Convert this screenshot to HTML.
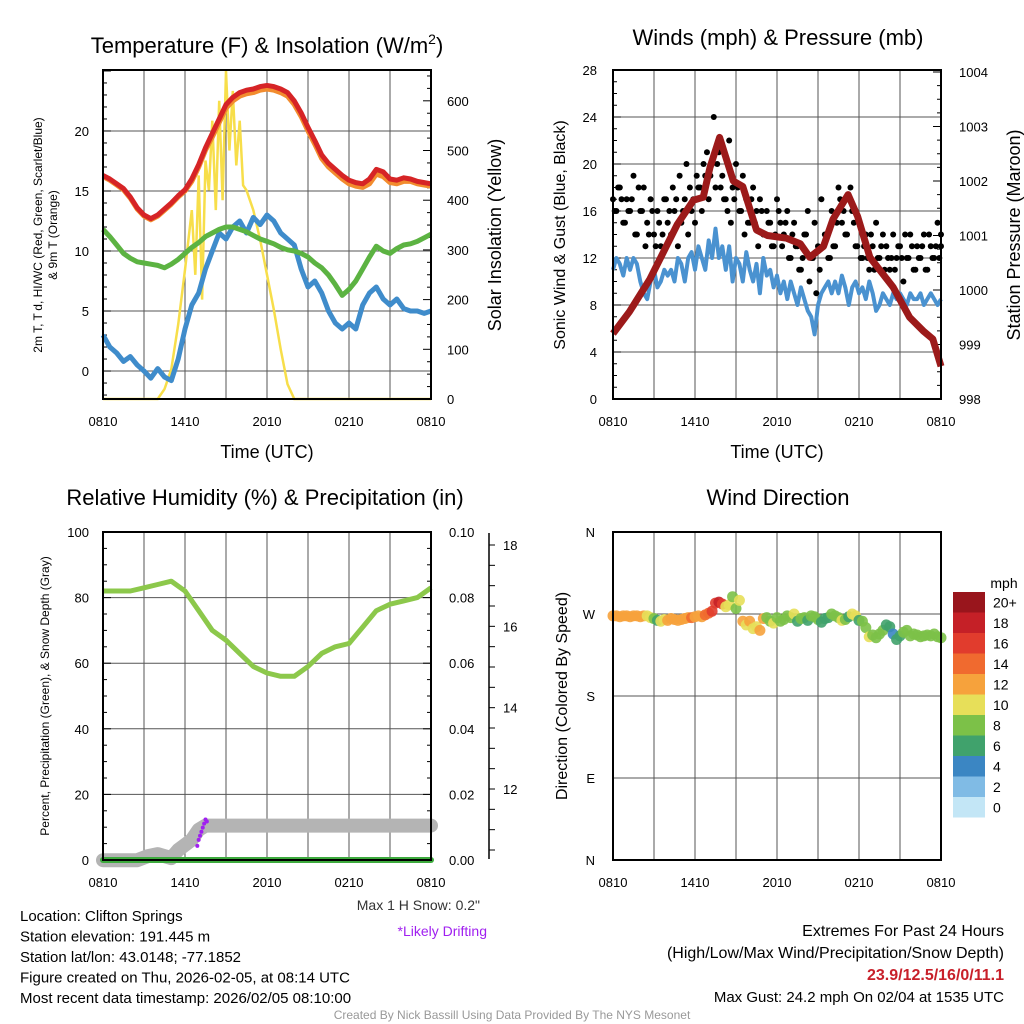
<!DOCTYPE html>
<html><head><meta charset="utf-8">
<style>
body{margin:0;background:#fff;}
svg{display:block;font-family:"Liberation Sans",sans-serif;}
</style></head>
<body>
<svg id="c" width="1024" height="1024" viewBox="0 0 1024 1024" xmlns="http://www.w3.org/2000/svg"></svg>
<script>
// ---------- DATA ----------
const timeLabels = ["0810","1410","2010","0210","0810"];
const halfHours = [];
for (let i = 0; i <= 48; i++) halfHours.push(i * 0.5);
const quarterHours = [];
for (let i = 0; i <= 96; i++) quarterHours.push(i * 0.25);
const tempRed = [16.3,16.0,15.6,15.2,14.5,13.6,13.0,12.7,13.0,13.5,14.0,14.6,15.1,16.0,17.2,18.6,19.8,21.0,22.2,22.8,23.2,23.4,23.5,23.7,23.8,23.7,23.5,23.2,22.5,21.5,20.3,19.2,18.0,17.3,16.8,16.3,15.9,15.7,15.6,16.0,16.8,16.6,16.0,15.9,16.1,16.0,15.8,15.7,15.6];
const temp9mOrange = [16.2,15.9,15.5,15.1,14.4,13.5,12.9,12.6,12.9,13.4,13.9,14.5,15.0,15.8,17.0,18.4,19.5,20.7,21.9,22.5,22.9,23.1,23.2,23.4,23.5,23.4,23.2,22.9,22.2,21.2,20.0,18.9,17.7,17.0,16.5,16.0,15.6,15.4,15.3,15.6,16.4,16.2,15.7,15.6,15.8,15.8,15.6,15.5,15.4];
const dewGreen = [11.8,11.2,10.5,9.8,9.4,9.1,9.0,8.9,8.8,8.6,8.9,9.3,9.8,10.3,10.7,11.2,11.5,11.8,12.0,12.0,11.8,11.6,11.3,11.0,10.8,10.6,10.3,10.1,10.0,9.8,9.5,9.0,8.6,8.0,7.2,6.3,6.8,7.5,8.5,9.5,10.4,10.0,9.8,10.2,10.5,10.6,10.8,11.1,11.4];
const chillBlue = [3.0,2.0,1.5,0.8,1.2,0.5,0.0,-0.6,0.2,-0.5,-0.8,1.0,3.5,5.5,6.5,8.5,10.0,11.5,11.0,12.0,12.5,11.5,12.8,12.2,13.0,12.5,11.5,11.0,10.5,8.5,7.0,7.5,6.5,5.0,4.0,3.5,4.0,3.5,5.5,6.5,7.0,6.0,5.5,6.0,5.2,5.0,5.0,4.8,5.0];
const solarHours = [0,3.5,4,4.5,5,5.5,6,6.25,6.5,6.75,7,7.25,7.5,7.75,8,8.25,8.5,8.75,9,9.25,9.5,9.75,10,10.25,10.5,11,11.5,12,12.5,13,13.5,14,24];
const solarWm2 = [0,0,0,20,60,150,260,320,380,250,450,200,480,420,560,380,600,400,660,500,620,470,560,430,420,380,320,250,180,100,30,0,0];
const pressHours = [0,1.2,2.7,4.7,5.9,6.6,7.1,7.8,8.8,9.5,10.5,11.3,12.7,13.7,14.4,15.4,16.1,17.2,17.9,18.8,20.5,21.7,22.7,23.4,24];
const pressMb = [999.2,999.6,1000.2,1001.2,1001.65,1001.7,1002.25,1002.8,1002.0,1001.9,1001.1,1001.0,1000.95,1000.85,1000.6,1000.8,1001.3,1001.75,1001.35,1000.6,1000.05,999.5,999.25,999.1,998.6];
const windBlue = [11,12,11.5,10.5,12,11,12,11.5,10,
  9,8.5,10,11,9.5,10,11,10.5,
  11,10,12,11.5,10,12,12.5,11,
  13,12,11,13.5,12,14.5,12,13,
  11,13,10,12,11.5,10,12.5,11,
  10,11.5,9,12,10.5,11,9.5,10.5,
  9,10,8.5,10,9,8,9.5,8.5,
  7.5,7,5.5,8,9,9.5,10,9,
  10,9,10.5,9.5,8,9.5,10,9,
  9.5,8.5,10,9,7.5,8,9,8.5,
  8,9,8.5,9,8.5,8,9,8.5,
  8.5,9,8,8.5,9,8.5,8,8.5];
const gustMph = [17,16,18,15,17,16,19,14,16,18,15,17,14,16,13,17,15,14,16,13,15,17,14,16,15,18,16,19,17,20,18,21,19,17,22,18,20,16,19,17,15,18,16,17,14,16,15,13,17,15,14,16,12,15,13,11,14,16,12,15,13,17,14,12,16,13,18,15,14,17,16,13,15,12,14,11,13,15,12,14,13,11,14,12,13,10,12,14,11,13,12,14,11,13,12,15,14];
const gustMphB = [16,18,17,15,16,17,14,18,16,
  13,14,16,13,15,14,17,16,
  18,17,19,16,20,18,17,19,
  18,20,21,19,24,20,18,17,
  16,15,17,18,16,14,15,17,
  15,13,16,14,15,13,14,16,
  13,15,12,14,13,11,12,14,
  10,12,9,11,13,14,12,13,
  15,17,16,14,18,15,13,12,
  13,12,14,11,12,13,11,12,
  12,11,13,12,14,12,13,11,
  12,13,11,14,12,13,12,13];
const rhHours = [0,2,3,4,5,6,7,8,9,10,11,12,13,14,15,16,17,18,19,20,21,22,23,24];
const rhPct = [82,82,83,84,85,82,76,70,67,63,59,57,56,56,59,63,65,66,71,76,78,79,80,83];
const snowHours = [0,2.5,3.3,4,5,5.5,6.5,7,7.5,24];
const snowIn = [10.25,10.25,10.35,10.4,10.3,10.5,10.75,11.0,11.1,11.1];
const driftHours = [6.9,7.0,7.1,7.2,7.3,7.4,7.5,7.6];
const driftIn = [10.6,10.75,10.85,10.95,11.05,11.15,11.25,11.2];
const dirDeg = [268,268,267,268,268,267,268,268,267,268,268,266,265,263,262,264,263,265,264,263,264,265,266,266,267,268,267,269,271,273,282,283,281,278,280,289,276,285,262,258,262,254,256,252,265,266,262,260,266,262,264,268,266,270,262,265,266,263,268,267,264,261,265,266,270,268,266,263,264,267,270,268,263,262,255,245,247,244,248,252,258,256,248,242,246,250,252,246,248,247,245,246,247,246,248,245,244];
const dirSpeed = [12,12,13,12,12,12,12,13,12,12,11,10,9,7,10,11,12,12,12,13,12,12,13,14,12,13,13,14,15,16,17,18,16,10,11,9,9,10,12,10,13,11,10,13,12,9,9,10,8,9,9,8,8,10,6,8,8,6,8,9,9,6,6,7,8,8,9,10,8,7,10,10,7,8,8,10,9,8,9,8,7,6,5,6,7,8,8,8,8,9,8,8,8,8,9,8,8];
const cbarLabels = ["20+","18","16","14","12","10","8","6","4","2","0"];
const cbarColors = ["#99151c","#c52027","#e13c2d","#f06a2f","#f6a23c","#e7df59","#7cc148","#40a26c","#3b86c3","#80bbe5","#c3e6f6"];

// ---------- helpers ----------
const NS = "http://www.w3.org/2000/svg";
const svg = document.getElementById("c");
function mk(tag, attrs, name, parent) {
  const el = document.createElementNS(NS, tag);
  for (const k in attrs) el.setAttribute(k, attrs[k]);
  
  
  (parent || svg).appendChild(el);
  return el;
}
function txt(x, y, s, size, name, opts) {
  opts = opts || {};
  const t = mk("text", Object.assign({x: x, y: y, "font-size": size, fill: opts.fill || "#000", "text-anchor": opts.anchor || "middle"}, opts.extra || {}), name);
  if (opts.bold) t.setAttribute("font-weight", "bold");
  t.textContent = s;
  return t;
}
function lin(d0, d1, p0, p1) { return v => p0 + (v - d0) * (p1 - p0) / (d1 - d0); }
function pathFrom(xs, ys, fx, fy) {
  let d = "";
  for (let i = 0; i < xs.length; i++) d += (i ? "L" : "M") + fx(xs[i]).toFixed(1) + "," + fy(ys[i]).toFixed(1);
  return d;
}

function panel(L, T, R, B, name) {
  const fx = lin(0, 24, L, R);
  for (let h = 3; h < 24; h += 3) mk("line", {x1: fx(h), x2: fx(h), y1: T, y2: B, stroke: "#555", "stroke-width": 1}, name + "-vgrid");
  timeLabels.forEach((s, i) => txt(fx(i * 6), B + 27, s, 13, name + "-x-tick-label"));
  return fx;
}
function frame(L, T, R, B, name) {
  mk("rect", {x: L, y: T, width: R - L, height: B - T, fill: "none", stroke: "#000", "stroke-width": 2}, name + "-frame");
}
function hgrid(L, R, y, name) { mk("line", {x1: L, x2: R, y1: y, y2: y, stroke: "#555", "stroke-width": 1}, name + "-hgrid"); }
function ticksLeft(L, y, major, name) { mk("line", {x1: L, x2: L + (major ? 8 : 4), y1: y, y2: y, stroke: "#000", "stroke-width": 1}, name + "-tick"); }
function ticksRight(R, y, major, name) { mk("line", {x1: R, x2: R - (major ? 8 : 4), y1: y, y2: y, stroke: "#000", "stroke-width": 1}, name + "-tick"); }

// ================= Panel 1 =================
{
  const L = 103, T = 70, R = 431, B = 399;
  const fx = panel(L, T, R, B, "temp-panel");
  const fy = lin(-2.33, 25.08, B, T);
  const fs = lin(0, 662, B, T);
  [0, 5, 10, 15, 20].forEach(v => { hgrid(L, R, fy(v), "temp-panel"); txt(L - 14, fy(v) + 5, String(v), 13, "temp-y-tick-label", {anchor: "end"}); });
  for (let v = -2; v <= 25; v++) ticksLeft(L, fy(v), v % 5 === 0, "temp-left");
  [0, 100, 200, 300, 400, 500, 600].forEach(v => txt(R + 16, fs(v) + 5, String(v), 13, "solar-y-tick-label", {anchor: "start"}));
  for (let v = 0; v <= 650; v += 25) ticksRight(R, fs(v), v % 100 === 0, "solar-right");
  mk("path", {d: pathFrom(solarHours, solarWm2, fx, fs), fill: "none", stroke: "#f7de4a", "stroke-width": 2.5}, "solar-insolation-line");
  mk("path", {d: pathFrom(halfHours, chillBlue, fx, fy), fill: "none", stroke: "#3f8ccb", "stroke-width": 5, "stroke-linejoin": "round"}, "windchill-line");
  mk("path", {d: pathFrom(halfHours, dewGreen, fx, fy), fill: "none", stroke: "#5cb342", "stroke-width": 5, "stroke-linejoin": "round"}, "dewpoint-line");
  mk("path", {d: pathFrom(halfHours, temp9mOrange, fx, fy), fill: "none", stroke: "#f28c2e", "stroke-width": 5, "stroke-linejoin": "round"}, "temp-9m-line");
  mk("path", {d: pathFrom(halfHours, tempRed, fx, fy), fill: "none", stroke: "#d62426", "stroke-width": 5, "stroke-linejoin": "round"}, "temp-2m-line");
  frame(L, T, R, B, "temp-panel");
  const t = txt(267, 53, "Temperature (F) & Insolation (W/m", 22, "temp-panel-title");
  const sup = document.createElementNS(NS, "tspan"); sup.setAttribute("dy", "-9"); sup.setAttribute("font-size", "14"); sup.textContent = "2"; t.appendChild(sup);
  const cl = document.createElementNS(NS, "tspan"); cl.setAttribute("dy", "9"); cl.textContent = ")"; t.appendChild(cl);
  txt(267, 458, "Time (UTC)", 18, "temp-x-axis-title");
  txt(0, 0, "Solar Insolation (Yellow)", 18, "solar-y-axis-title", {extra: {transform: "translate(501,235) rotate(-90)"}});
  txt(0, 0, "2m T, T\u2009d, HI/WC (Red, Green, Scarlet/Blue)", 12, "temp-y-axis-title", {extra: {transform: "translate(42,235) rotate(-90)"}});
  txt(0, 0, "& 9m T (Orange)", 12, "temp-y-axis-title-line2", {extra: {transform: "translate(57,235) rotate(-90)"}});
}

// ================= Panel 2 =================
{
  const L = 613, T = 70, R = 941, B = 399;
  const fx = panel(L, T, R, B, "wind-panel");
  const fy = lin(0, 28, B, T);
  const fp = lin(998, 1004, B, T + 2);
  [4, 8, 12, 16, 20, 24].forEach(v => hgrid(L, R, fy(v), "wind-panel"));
  [0, 4, 8, 12, 16, 20, 24, 28].forEach(v => txt(L - 16, fy(v) + 5, String(v), 13, "wind-y-tick-label", {anchor: "end"}));
  for (let v = 0; v <= 28; v++) ticksLeft(L, fy(v), v % 4 === 0, "wind-left");
  [998, 999, 1000, 1001, 1002, 1003, 1004].forEach(v => txt(R + 18, fp(v) + 5, String(v), 13, "pressure-y-tick-label", {anchor: "start"}));
  for (let v = 998; v <= 1004; v += 0.25) ticksRight(R, fp(v), v % 1 === 0, "pressure-right");
  mk("path", {d: pathFrom(quarterHours, windBlue, fx, fy), fill: "none", stroke: "#4a92d0", "stroke-width": 4, "stroke-linejoin": "round"}, "sonic-wind-line");
  gustMph.forEach((g, i) => mk("circle", {cx: fx(quarterHours[i]), cy: fy(g), r: 3, fill: "#000"}, "gust-point"));
  gustMphB.forEach((g, i) => mk("circle", {cx: fx(Math.min(24, quarterHours[i] + 0.125)), cy: fy(g), r: 3, fill: "#000"}, "gust-point"));
  mk("path", {d: pathFrom(pressHours, pressMb, fx, fp), fill: "none", stroke: "#9c1a1a", "stroke-width": 7, "stroke-linejoin": "round"}, "pressure-line");
  frame(L, T, R, B, "wind-panel");
  txt(778, 45, "Winds (mph) & Pressure (mb)", 22, "wind-panel-title");
  txt(777, 458, "Time (UTC)", 18, "wind-x-axis-title");
  txt(0, 0, "Sonic Wind & Gust (Blue, Black)", 16, "wind-y-axis-title", {extra: {transform: "translate(565,235) rotate(-90)"}});
  txt(0, 0, "Station Pressure (Maroon)", 18, "pressure-y-axis-title", {extra: {transform: "translate(1020,235) rotate(-90)"}});
}

// ================= Panel 3 =================
{
  const L = 103, T = 532, R = 431, B = 860;
  const fx = panel(L, T, R, B, "rh-panel");
  const fy = lin(0, 100, B, T);
  const fsn = lin(12, 18, 789, 545);
  [20, 40, 60, 80].forEach(v => hgrid(L, R, fy(v), "rh-panel"));
  [0, 20, 40, 60, 80, 100].forEach(v => txt(L - 14, fy(v) + 5, String(v), 13, "rh-y-tick-label", {anchor: "end"}));
  for (let v = 0; v <= 100; v += 5) ticksLeft(L, fy(v), v % 20 === 0, "rh-left");
  ["0.00", "0.02", "0.04", "0.06", "0.08", "0.10"].forEach((s, i) => txt(R + 18, fy(i * 20) + 5, s, 13, "precip-y-tick-label", {anchor: "start"}));
  for (let v = 0; v <= 100; v += 5) ticksRight(R, fy(v), v % 20 === 0, "precip-right");
  mk("line", {x1: 489, x2: 489, y1: 533, y2: 859, stroke: "#000", "stroke-width": 1.5}, "snow-axis-line");
  for (let v = 10.5; v <= 18.2; v += 0.5) mk("line", {x1: 489, x2: 495, y1: fsn(v), y2: fsn(v), stroke: "#000", "stroke-width": 1}, "snow-axis-tick");
  [12, 14, 16, 18].forEach(v => txt(503, fsn(v) + 5, String(v), 13, "snow-y-tick-label", {anchor: "start"}));
  mk("path", {d: pathFrom(snowHours, snowIn, fx, fsn), fill: "none", stroke: "#b4b4b4", "stroke-width": 14, "stroke-linecap": "round", "stroke-linejoin": "round"}, "snow-depth-line");
  driftHours.forEach((h, i) => mk("circle", {cx: fx(h), cy: fsn(driftIn[i]), r: 2, fill: "#a020f0"}, "drift-point"));
  mk("line", {x1: L, x2: R, y1: fy(0), y2: fy(0), stroke: "#3daa3d", "stroke-width": 6, "stroke-linecap": "round"}, "precip-line");
  mk("path", {d: pathFrom(rhHours, rhPct, fx, fy), fill: "none", stroke: "#8cc84b", "stroke-width": 5, "stroke-linejoin": "round"}, "rh-line");
  frame(L, T, R, B, "rh-panel");
  txt(265, 505, "Relative Humidity (%) & Precipitation (in)", 22, "rh-panel-title");
  txt(0, 0, "Percent, Precipitation (Green), & Snow Depth (Gray)", 12, "rh-y-axis-title", {extra: {transform: "translate(49,696) rotate(-90)"}});
  txt(480, 910, "Max 1 H Snow: 0.2\"", 14, "max-snow-note", {anchor: "end", fill: "#333"});
  txt(487, 936, "*Likely Drifting", 14, "drifting-note", {anchor: "end", fill: "#a020f0"});
}

// ================= Panel 4 =================
{
  const L = 613, T = 532, R = 941, B = 860;
  const fx = panel(L, T, R, B, "dir-panel");
  const fy = lin(0, 360, B, T);
  [90, 180, 270].forEach(v => hgrid(L, R, fy(v), "dir-panel"));
  ["N", "E", "S", "W", "N"].forEach((s, i) => txt(L - 18, fy(i * 90) + 5, s, 13, "dir-y-tick-label", {anchor: "end"}));
  dirDeg.forEach((d, i) => {
    const idx = Math.min(10, Math.floor(dirSpeed[i] / 2));
    mk("circle", {cx: fx(quarterHours[i]), cy: fy(d), r: 5.5, fill: cbarColors[10 - idx], "fill-opacity": 0.9}, "wind-dir-point");
  });
  frame(L, T, R, B, "dir-panel");
  txt(778, 505, "Wind Direction", 22, "dir-panel-title");
  txt(0, 0, "Direction (Colored By Speed)", 16, "dir-y-axis-title", {extra: {transform: "translate(567,696) rotate(-90)"}});
  txt(1004, 588, "mph", 14, "colorbar-title");
  const h = 20.5;
  cbarColors.forEach((c, i) => {
    mk("rect", {x: 953, y: 592 + i * h, width: 32, height: h, fill: c}, "colorbar-box");
    txt(993, 592 + i * h + h / 2 + 5, cbarLabels[i], 14, "colorbar-label", {anchor: "start"});
  });
}

// ================= Footer =================
const infoLines = ["Location: Clifton Springs", "Station elevation: 191.445 m", "Station lat/lon: 43.0148; -77.1852", "Figure created on Thu, 2026-02-05, at 08:14 UTC", "Most recent data timestamp: 2026/02/05 08:10:00"];
infoLines.forEach((s, i) => txt(20, 921 + i * 20.5, s, 15, "station-info-line", {anchor: "start"}));
txt(1004, 936, "Extremes For Past 24 Hours", 16, "extremes-title", {anchor: "end"});
txt(1004, 958, "(High/Low/Max Wind/Precipitation/Snow Depth)", 16, "extremes-subtitle", {anchor: "end"});
txt(1004, 980, "23.9/12.5/16/0/11.1", 16, "extremes-values", {anchor: "end", fill: "#c8202a", bold: true});
txt(1004, 1002, "Max Gust: 24.2 mph On 02/04 at 1535 UTC", 15, "max-gust-note", {anchor: "end"});
txt(512, 1019, "Created By Nick Bassill Using Data Provided By The NYS Mesonet", 12, "credit-line", {fill: "#999"});
</script>
</body></html>
